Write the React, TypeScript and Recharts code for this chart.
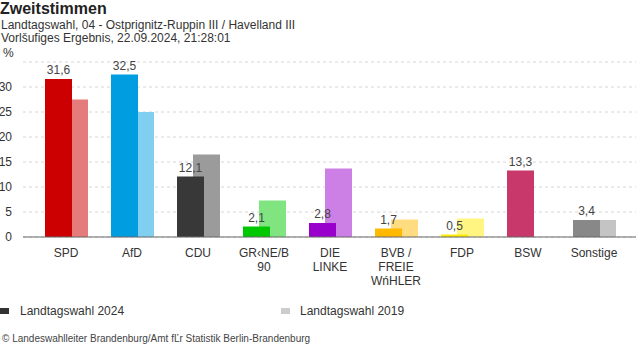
import React from 'react';
import { BarChart, Bar, XAxis, YAxis, CartesianGrid, Cell, LabelList } from 'recharts';

const parties = ['SPD', 'AfD', 'CDU', 'GR‹NE/B 90', 'DIE LINKE', 'BVB / FREIE WńHLER', 'FDP', 'BSW', 'Sonstige'];
const votes2024 = [31.6, 32.5, 12.1, 2.1, 2.8, 1.7, 0.5, 13.3, 3.4];
const votes2019 = [27.5, 25.0, 16.5, 7.3, 13.7, 3.5, 3.7, null, 3.4];
const yTicks = [0, 5, 10, 15, 20, 25, 30];

// party colours, full for 2024 and pale for 2019
const colors2024 = ['#cc0000', '#009ee0', '#383838', '#00c800', '#9900cc', '#ffb900', '#ffed00', '#c8386a', '#888888'];
const colors2019 = ['#e57b7b', '#80cef0', '#9b9b9b', '#80e580', '#cc80e6', '#ffdc80', '#fff580', '#e39bb4', '#c4c4c4'];

const font = 'Arial, "Liberation Sans", sans-serif';

const data = parties.map((name, i) => ({ name, v2024: votes2024[i], v2019: votes2019[i] }));

const fmt = (v: any) => (v == null ? '' : Number(v).toFixed(1).replace('.', ','));

// simple word wrap, about 8 characters per line
const wrap = (s: string) => {
  const lines: string[] = [];
  s.split(' ').forEach((w) => {
    const last = lines[lines.length - 1];
    if (last !== undefined && (last + ' ' + w).length <= 8) lines[lines.length - 1] = last + ' ' + w;
    else lines.push(w);
  });
  return lines;
};

const PartyTick = (props: any) => {
  const { x, y, payload } = props;
  return (
    <g transform={`translate(${x},${y})`}>
      <text textAnchor='middle' fontSize={12} fill='#333' fontFamily={font}>
        {wrap(String(payload.value)).map((l, i) => (
          <tspan key={i} x={0} y={i * 14 + 12}>
            {l}
          </tspan>
        ))}
      </text>
    </g>
  );
};

const Line = ({ top, size, bold, children, left = 0, color = '#333' }: any) => (
  <div
    style={{
      position: 'absolute',
      left,
      top: top - 0.8465 * size,
      fontSize: size,
      lineHeight: `${size}px`,
      fontWeight: bold ? 'bold' : 'normal',
      color,
      whiteSpace: 'nowrap',
    }}
  >
    {children}
  </div>
);

export default function App() {
  return (
    <div style={{ position: 'relative', width: 636, height: 352, fontFamily: font, background: '#fff' }}>
      <style>{'body{margin:0}'}</style>
      <Line top={15} size={16} bold color='#222'>Zweitstimmen</Line>
      <Line top={29.5} size={12} left={1}>Landtagswahl, 04 - Ostprignitz-Ruppin III / Havelland III</Line>
      <Line top={42.5} size={12} left={1}>Vorlšufiges Ergebnis, 22.09.2024, 21:28:01</Line>
      <Line top={57} size={12} left={3}>%</Line>

      <div style={{ position: 'absolute', left: 0, top: 0 }}>
        <BarChart width={636} height={290} data={data} margin={{ top: 62, right: 0, bottom: 0, left: 0 }}>
          <CartesianGrid vertical={false} xAxisId='m' stroke='#d6d6d6' strokeDasharray='3 3' />
          <XAxis
            xAxisId='m'
            dataKey='name'
            height={53}
            padding={{ left: 10, right: 9 }}
            axisLine={{ stroke: '#666' }}
            tickLine={false}
            interval={0}
            tick={<PartyTick />}
          />
          <XAxis xAxisId='a' dataKey='name' hide height={0} padding={{ left: 2, right: 17 }} />
          <XAxis xAxisId='b' dataKey='name' hide height={0} padding={{ left: 18, right: 1 }} />
          <YAxis
            width={23}
            domain={[0, 35]}
            ticks={yTicks}
            axisLine={false}
            tickLine={false}
            tickMargin={5}
            tick={{ fontSize: 12, fill: '#333', fontFamily: font }}
          />
          <Bar dataKey='v2019' xAxisId='b' barSize={27} isAnimationActive={false}>
            {data.map((entry, index) => (
              <Cell key={`old-${index}`} fill={colors2019[index]} />
            ))}
          </Bar>
          <Bar dataKey='v2024' xAxisId='a' barSize={27} isAnimationActive={false}>
            {data.map((entry, index) => (
              <Cell key={`new-${index}`} fill={colors2024[index]} />
            ))}
            <LabelList dataKey='v2024' position='top' formatter={fmt} fill='#444' fontSize={12} fontFamily={font} />
          </Bar>
        </BarChart>
      </div>

      <div style={{ position: 'absolute', left: 0, top: 308, width: 9, height: 6, background: '#333' }} />
      <Line top={315} size={12} left={20}>Landtagswahl 2024</Line>
      <div style={{ position: 'absolute', left: 281, top: 308, width: 9, height: 6, background: '#ccc' }} />
      <Line top={315} size={12} left={300}>Landtagswahl 2019</Line>

      <Line top={342.7} size={10} left={2} color='#444'>
        © Landeswahlleiter Brandenburg/Amt fĽr Statistik Berlin-Brandenburg
      </Line>
    </div>
  );
}
